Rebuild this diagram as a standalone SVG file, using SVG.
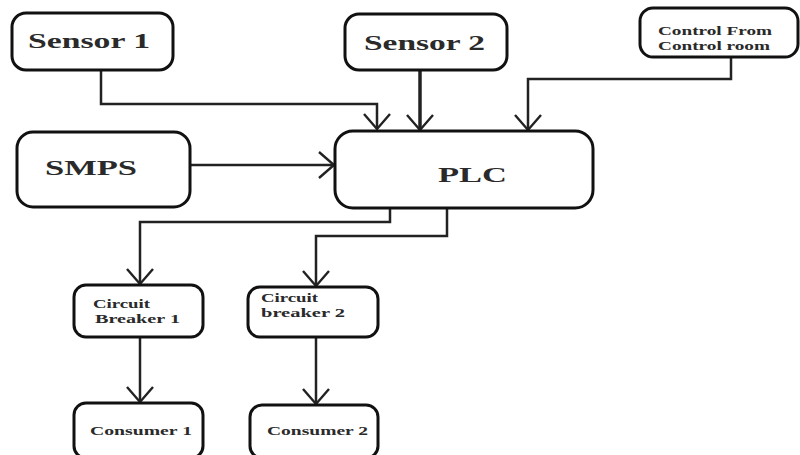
<svg xmlns="http://www.w3.org/2000/svg" width="800" height="455" viewBox="0 0 800 455">
<defs>
<marker id="arr" viewBox="0 0 20 30" refX="18" refY="15" markerWidth="20" markerHeight="30" markerUnits="userSpaceOnUse" orient="auto">
<path d="M3,2 L18,15 L3,28" fill="none" stroke="#222" stroke-width="2.4"/>
</marker>
</defs>
<style>
.box{fill:#fff;stroke:#111;stroke-width:3}
.t{font-family:"Liberation Serif","DejaVu Serif",serif;font-weight:bold;fill:#2a2a2a}
.big{font-size:20px}
.sm{font-size:12px}
.c{fill:none;stroke:#222;stroke-width:2.5}
.ct{fill:none;stroke:#222;stroke-width:3.5}
</style>
<rect width="800" height="455" fill="#fff"/>
<g id="connectors">
<path class="c" d="M101,70 V104 H377 V129" marker-end="url(#arr)"/>
<path class="ct" d="M420,70 V130" marker-end="url(#arr)"/>
<path class="c" d="M731,57 V79 H528 V130" marker-end="url(#arr)"/>
<path class="c" d="M190,165 H334" marker-end="url(#arr)"/>
<path class="c" d="M390,208 V222 H140 V284" marker-end="url(#arr)"/>
<path class="c" d="M447,208 V236 H316 V286" marker-end="url(#arr)"/>
<path class="c" d="M140,337 V402" marker-end="url(#arr)"/>
<path class="c" d="M316,337 V404" marker-end="url(#arr)"/>
</g>
<g id="sensor1">
<rect class="box" x="12" y="13" width="161" height="57" rx="14"/>
<text class="t big" x="28" y="48" textLength="122" lengthAdjust="spacingAndGlyphs">Sensor 1</text>
</g>
<g id="sensor2">
<rect class="box" x="345" y="14" width="162" height="56" rx="14"/>
<text class="t big" x="364" y="50" textLength="121" lengthAdjust="spacingAndGlyphs">Sensor 2</text>
</g>
<g id="control">
<rect class="box" x="640" y="8" width="158" height="49" rx="13"/>
<text class="t sm" x="658" y="35" textLength="114" lengthAdjust="spacingAndGlyphs">Control From</text>
<text class="t sm" x="658" y="50" textLength="112" lengthAdjust="spacingAndGlyphs">Control room</text>
</g>
<g id="smps">
<rect class="box" x="17" y="132" width="173" height="75" rx="16"/>
<text class="t big" x="45" y="175" textLength="92" lengthAdjust="spacingAndGlyphs">SMPS</text>
</g>
<g id="plc">
<rect class="box" x="335" y="131" width="258" height="77" rx="18"/>
<text class="t big" x="438" y="182" textLength="69" lengthAdjust="spacingAndGlyphs">PLC</text>
</g>
<g id="cb1">
<rect class="box" x="74" y="285" width="129" height="52" rx="12"/>
<text class="t sm" x="93" y="308" textLength="57" lengthAdjust="spacingAndGlyphs">Circuit</text>
<text class="t sm" x="95" y="323" textLength="85" lengthAdjust="spacingAndGlyphs">Breaker 1</text>
</g>
<g id="cb2">
<rect class="box" x="248" y="287" width="130" height="50" rx="12"/>
<text class="t sm" x="261" y="302" textLength="57" lengthAdjust="spacingAndGlyphs">Circuit</text>
<text class="t sm" x="261" y="317" textLength="84" lengthAdjust="spacingAndGlyphs">breaker 2</text>
</g>
<g id="consumer1">
<rect class="box" x="74" y="403" width="129" height="55" rx="12"/>
<text class="t sm" x="90" y="435" textLength="102" lengthAdjust="spacingAndGlyphs">Consumer 1</text>
</g>
<g id="consumer2">
<rect class="box" x="250" y="405" width="128" height="53" rx="12"/>
<text class="t sm" x="267" y="435" textLength="101" lengthAdjust="spacingAndGlyphs">Consumer 2</text>
</g>
</svg>
